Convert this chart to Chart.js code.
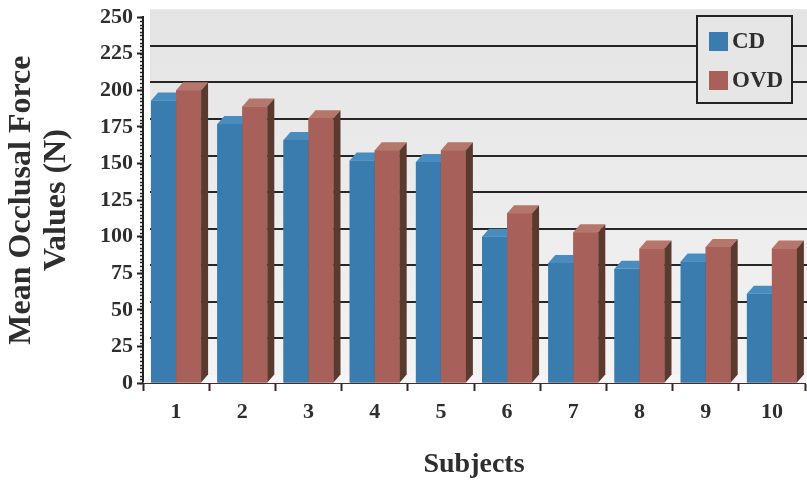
<!DOCTYPE html>
<html>
<head>
<meta charset="utf-8">
<title>Mean Occlusal Force</title>
<script src="https://cdn.jsdelivr.net/npm/chart.js@4.4.0/dist/chart.umd.min.js"></script>
<style>
  html, body { margin: 0; padding: 0; background: #fff; }
</style>
</head>
<body>
<canvas id="myChart" width="807" height="482"></canvas>
<script>
// data
const subjects = ['1', '2', '3', '4', '5', '6', '7', '8', '9', '10'];
const cdValues = [193, 177, 166, 152, 151, 100, 82, 78, 83, 61];
const ovdValues = [200, 189, 181, 159, 159, 116, 103, 92, 93, 92];
const yMax = 250;
const yStep = 25;

// depth of the fake 3d box
const DX = 7;
const DY = 8;
const serif = 'Liberation Serif';
const textColor = '#2e2e2e';

const faces = {
    CD: { front: '#3a7cae', top: '#4a8cbd', side: '#24506f' },
    OVD: { front: '#a7615a', top: '#b5766c', side: '#5a3a2e' }
};

// back wall, floor and gridlines behind the bars
const wallPlugin = {
    id: 'wall',
    beforeDatasetsDraw(chart) {
        const ctx = chart.ctx;
        const area = chart.chartArea;
        const y = chart.scales.y;
        const top = y.getPixelForValue(yMax) - DY;
        const bottom = y.getPixelForValue(0) - DY;
        ctx.save();
        const g = ctx.createLinearGradient(0, top, 0, bottom);
        g.addColorStop(0, '#e4e4e4');
        g.addColorStop(1, '#f3f3f3');
        ctx.fillStyle = g;
        ctx.fillRect(area.left + DX, top, chart.width - area.left - DX, bottom - top);
        // floor
        ctx.fillStyle = '#f5f5f5';
        ctx.beginPath();
        ctx.moveTo(area.left, area.bottom);
        ctx.lineTo(chart.width, area.bottom);
        ctx.lineTo(chart.width, bottom);
        ctx.lineTo(area.left + DX, bottom);
        ctx.closePath();
        ctx.fill();
        ctx.strokeStyle = '#262626';
        ctx.lineWidth = 2;
        for (let v = yStep; v < yMax; v += yStep) {
            const py = Math.round(y.getPixelForValue(v) - DY);
            ctx.beginPath();
            ctx.moveTo(area.left + DX, py);
            ctx.lineTo(chart.width, py);
            ctx.stroke();
        }
        ctx.restore();
    },
    afterDatasetsDraw(chart) {
        const ctx = chart.ctx;
        const metas = chart.data.datasets.map((d, i) => chart.getDatasetMeta(i));
        ctx.save();
        for (let j = 0; j < subjects.length; j++) {
            metas.forEach((meta, i) => {
                const f = faces[chart.data.datasets[i].label];
                const el = meta.data[j];
                const p = el.getProps(['x', 'y', 'base', 'width'], true);
                const l = p.x - p.width / 2;
                const r = p.x + p.width / 2;
                ctx.fillStyle = f.front;
                ctx.fillRect(l, p.y, p.width, p.base - p.y);
                ctx.fillStyle = f.top;
                ctx.beginPath();
                ctx.moveTo(l, p.y);
                ctx.lineTo(r, p.y);
                ctx.lineTo(r + DX, p.y - DY);
                ctx.lineTo(l + DX, p.y - DY);
                ctx.closePath();
                ctx.fill();
                ctx.fillStyle = f.side;
                ctx.beginPath();
                ctx.moveTo(r, p.y);
                ctx.lineTo(r + DX, p.y - DY);
                ctx.lineTo(r + DX, p.base - DY);
                ctx.lineTo(r, p.base);
                ctx.closePath();
                ctx.fill();
            });
        }
        ctx.restore();
    },
    afterDraw(chart) {
        const ctx = chart.ctx;
        const y = chart.scales.y;
        const x0 = chart.chartArea.left;
        ctx.save();
        // minor ticks on the value axis
        ctx.strokeStyle = '#222';
        ctx.lineWidth = 1.5;
        for (let v = 0; v <= yMax; v += yStep / 10) {
            const py = Math.round(y.getPixelForValue(v)) + 0.5;
            ctx.beginPath();
            ctx.moveTo(x0 - 3, py);
            ctx.lineTo(x0, py);
            ctx.stroke();
        }
        // legend box
        const bx = 697, by = 16, bw = 95, bh = 87;
        ctx.fillStyle = '#e6e6e6';
        ctx.fillRect(bx, by, bw, bh);
        ctx.strokeStyle = '#222';
        ctx.lineWidth = 2;
        ctx.strokeRect(bx, by, bw, bh);
        ctx.font = 'bold 23px "' + serif + '"';
        ctx.textBaseline = 'middle';
        chart.data.datasets.forEach((d, i) => {
            const cy = by + 26 + i * 39;
            ctx.fillStyle = d.backgroundColor;
            ctx.fillRect(bx + 12, cy - 10, 19, 19);
            ctx.fillStyle = textColor;
            ctx.fillText(d.label, bx + 35, cy);
        });
        ctx.restore();
    }
};

const ctx = document.getElementById('myChart').getContext('2d');
const myChart = new Chart(ctx, {
    type: 'bar',
    data: {
        labels: subjects,
        datasets: [{
            label: 'CD',
            data: cdValues,
            backgroundColor: faces.CD.front,
            categoryPercentage: 0.755,
            barPercentage: 1.0
        }, {
            label: 'OVD',
            data: ovdValues,
            backgroundColor: faces.OVD.front,
            categoryPercentage: 0.755,
            barPercentage: 1.0
        }]
    },
    options: {
        responsive: false,
        animation: false,
        layout: { padding: { top: 17, right: 2, left: 0, bottom: 0 } },
        plugins: {
            legend: { display: false },
            tooltip: { enabled: false }
        },
        scales: {
            x: {
                grid: { offset: true, drawOnChartArea: false, tickLength: 8, tickColor: '#3a2424', tickWidth: 2 },
                border: { color: '#4a2a2a', width: 2 },
                ticks: { color: textColor, padding: 8, font: { family: serif, size: 22, weight: 'bold' } },
                title: {
                    display: true,
                    text: 'Subjects',
                    color: textColor,
                    font: { family: serif, size: 28, weight: 'bold', lineHeight: 1.2 },
                    padding: { top: 0, bottom: 0 }
                },
                afterFit: (s) => { s.height = 99; }
            },
            y: {
                min: 0,
                max: yMax,
                ticks: { stepSize: yStep, color: textColor, padding: 4, font: { family: serif, size: 22, weight: 'bold' } },
                grid: { drawOnChartArea: false, tickLength: 6, tickColor: '#222', tickWidth: 2 },
                border: { color: '#222', width: 2 },
                title: {
                    display: true,
                    text: ['Mean Occlusal Force', 'Values (N)'],
                    color: textColor,
                    font: { family: serif, size: 32, weight: 'bold', lineHeight: 1.1 },
                    padding: { top: 4, bottom: 0 }
                },
                afterFit: (s) => { s.width = 143; }
            }
        }
    },
    plugins: [wallPlugin]
});
</script>
</body>
</html>
